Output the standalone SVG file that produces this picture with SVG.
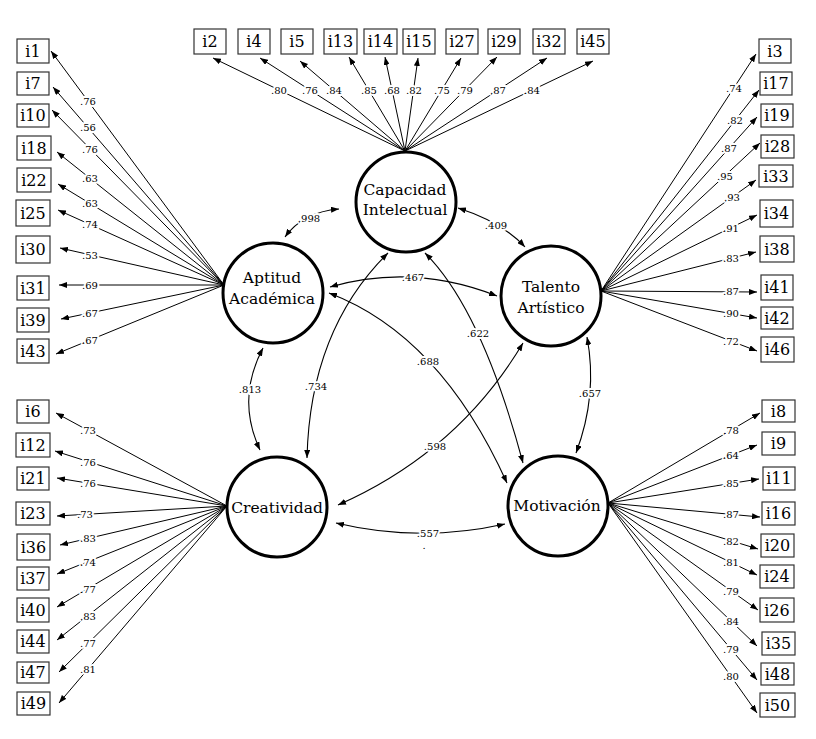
<svg xmlns="http://www.w3.org/2000/svg" width="816" height="739" viewBox="0 0 816 739">
<defs>
<marker id="ah" viewBox="0 0 8 6" refX="8" refY="3" markerWidth="8" markerHeight="6" markerUnits="userSpaceOnUse" orient="auto-start-reverse"><path d="M0,0 L8,3 L0,6 Z" fill="#000"/></marker>
<style>
.ind{fill:none;stroke:#000;stroke-width:1;marker-end:url(#ah)}
.cov{fill:none;stroke:#000;stroke-width:1.1;marker-start:url(#ah);marker-end:url(#ah)}
.lb{font-family:"DejaVu Serif","Liberation Serif",serif;font-size:10px;text-anchor:middle;dominant-baseline:central;fill:#000;stroke:#fff;stroke-width:4;paint-order:stroke;stroke-linejoin:round}
.box rect{fill:#fff;stroke:#333;stroke-width:1.2}
.box text{font-family:"DejaVu Serif","Liberation Serif",serif;font-size:16px;text-anchor:middle;fill:#000}
.lat circle{fill:#fff;stroke:#000;stroke-width:3}
.lat text{font-family:"DejaVu Serif","Liberation Serif",serif;font-size:15.5px;text-anchor:middle;fill:#000}
</style>
</defs>
<rect width="816" height="739" fill="#fff"/>
<g id="connectors">
<path class="ind" d="M405,151 L213,58"/>
<path class="ind" d="M405,151 L260,58"/>
<path class="ind" d="M405,151 L300,61"/>
<path class="ind" d="M405,151 L349,57"/>
<path class="ind" d="M405,151 L385,57"/>
<path class="ind" d="M405,151 L418,58"/>
<path class="ind" d="M405,151 L461,58"/>
<path class="ind" d="M405,151 L497,57"/>
<path class="ind" d="M405,151 L547,58"/>
<path class="ind" d="M405,151 L593,61"/>
<path class="ind" d="M224,285 L51,51"/>
<path class="ind" d="M224,285 L53,87"/>
<path class="ind" d="M224,285 L52,110"/>
<path class="ind" d="M224,285 L57,152"/>
<path class="ind" d="M224,285 L58,184"/>
<path class="ind" d="M224,285 L58,210"/>
<path class="ind" d="M224,285 L60,248"/>
<path class="ind" d="M224,285 L59,285"/>
<path class="ind" d="M224,285 L61,319"/>
<path class="ind" d="M224,285 L56,354"/>
<path class="ind" d="M601,291 L756,54"/>
<path class="ind" d="M601,291 L759,90"/>
<path class="ind" d="M601,291 L757,117"/>
<path class="ind" d="M601,291 L760,143"/>
<path class="ind" d="M601,291 L756,180"/>
<path class="ind" d="M601,291 L757,215"/>
<path class="ind" d="M601,291 L756,252"/>
<path class="ind" d="M601,291 L757,292"/>
<path class="ind" d="M601,291 L757,318"/>
<path class="ind" d="M601,291 L757,351"/>
<path class="ind" d="M227,506 L56,413"/>
<path class="ind" d="M227,506 L55,451"/>
<path class="ind" d="M227,506 L57,478"/>
<path class="ind" d="M227,506 L57,516"/>
<path class="ind" d="M227,506 L60,545"/>
<path class="ind" d="M227,506 L57,574"/>
<path class="ind" d="M227,506 L57,607"/>
<path class="ind" d="M227,506 L57,640"/>
<path class="ind" d="M227,506 L59,672"/>
<path class="ind" d="M227,506 L59,703"/>
<path class="ind" d="M608,503 L760,413"/>
<path class="ind" d="M608,503 L757,445"/>
<path class="ind" d="M608,503 L759,479"/>
<path class="ind" d="M608,503 L760,517"/>
<path class="ind" d="M608,503 L758,549"/>
<path class="ind" d="M608,503 L757,575"/>
<path class="ind" d="M608,503 L758,610"/>
<path class="ind" d="M608,503 L757,646"/>
<path class="ind" d="M608,503 L757,680"/>
<path class="ind" d="M608,503 L757,713"/>
<path class="cov" d="M285,237 Q303,212 339,209"/>
<path class="cov" d="M458,208 Q502,222 525,247"/>
<path class="cov" d="M330,287 Q413,263 497,296"/>
<path class="cov" d="M329,293 Q440,335 507,483"/>
<path class="cov" d="M425,253 C455,283 490,340 523,463"/>
<path class="cov" d="M307,458 Q310,330 388,253"/>
<path class="cov" d="M263,348 Q236,399 260,450"/>
<path class="cov" d="M587,337 Q598,395 576,453"/>
<path class="cov" d="M338,505 Q458,452 523,343"/>
<path class="cov" d="M336,523 Q420,543 505,524"/>
<g id="labels">
<text class="lb" x="279" y="90">.80</text>
<text class="lb" x="310" y="90">.76</text>
<text class="lb" x="334" y="90">.84</text>
<text class="lb" x="369" y="90">.85</text>
<text class="lb" x="392" y="90">.68</text>
<text class="lb" x="414" y="90">.82</text>
<text class="lb" x="442" y="90">.75</text>
<text class="lb" x="465" y="90">.79</text>
<text class="lb" x="498" y="90">.87</text>
<text class="lb" x="532" y="90">.84</text>
<text class="lb" x="88" y="101">.76</text>
<text class="lb" x="88" y="127.5">.56</text>
<text class="lb" x="90" y="149">.76</text>
<text class="lb" x="90" y="178">.63</text>
<text class="lb" x="90" y="203.5">.63</text>
<text class="lb" x="90" y="224.5">.74</text>
<text class="lb" x="90" y="255">.53</text>
<text class="lb" x="90" y="285">.69</text>
<text class="lb" x="90" y="313">.67</text>
<text class="lb" x="90" y="340">.67</text>
<text class="lb" x="734" y="88">.74</text>
<text class="lb" x="735" y="120">.82</text>
<text class="lb" x="729" y="148">.87</text>
<text class="lb" x="725" y="176">.95</text>
<text class="lb" x="732" y="197">.93</text>
<text class="lb" x="731" y="228">.91</text>
<text class="lb" x="731" y="258">.83</text>
<text class="lb" x="731" y="291.5">.87</text>
<text class="lb" x="731" y="313.5">.90</text>
<text class="lb" x="731" y="341">.72</text>
<text class="lb" x="88" y="430">.73</text>
<text class="lb" x="88" y="462">.76</text>
<text class="lb" x="88" y="483">.76</text>
<text class="lb" x="85" y="514">.73</text>
<text class="lb" x="88" y="538.5">.83</text>
<text class="lb" x="88" y="562">.74</text>
<text class="lb" x="88" y="589">.77</text>
<text class="lb" x="88" y="616">.83</text>
<text class="lb" x="88" y="643">.77</text>
<text class="lb" x="88" y="669">.81</text>
<text class="lb" x="731" y="430">.78</text>
<text class="lb" x="731" y="455">.64</text>
<text class="lb" x="731" y="483">.85</text>
<text class="lb" x="731" y="514">.87</text>
<text class="lb" x="731" y="541">.82</text>
<text class="lb" x="731" y="562">.81</text>
<text class="lb" x="731" y="591">.79</text>
<text class="lb" x="731" y="621">.84</text>
<text class="lb" x="731" y="649">.79</text>
<text class="lb" x="731" y="676">.80</text>
<text class="lb" x="309" y="218">.998</text>
<text class="lb" x="496" y="225">.409</text>
<text class="lb" x="413" y="277">.467</text>
<text class="lb" x="428" y="361">.688</text>
<text class="lb" x="478" y="333">.622</text>
<text class="lb" x="316" y="386">.734</text>
<text class="lb" x="250" y="389">.813</text>
<text class="lb" x="590" y="393">.657</text>
<text class="lb" x="435" y="446">.598</text>
<text class="lb" x="428" y="533.5">.557</text>
<text class="lb" x="424" y="545">.</text>
</g>
</g>
<g id="capacidad" class="lat"><circle cx="406" cy="202" r="50"/><text x="405" y="195">Capacidad</text><text x="405" y="215">Intelectual</text></g>
<g id="aptitud" class="lat"><circle cx="273" cy="293" r="50"/><text x="272" y="283">Aptitud</text><text x="272" y="304">Académica</text></g>
<g id="talento" class="lat"><circle cx="551" cy="296" r="50"/><text x="551" y="292">Talento</text><text x="551" y="313">Artístico</text></g>
<g id="creatividad" class="lat"><circle cx="277" cy="507" r="50"/><text x="277" y="513">Creatividad</text></g>
<g id="motivacion" class="lat"><circle cx="558" cy="506" r="50"/><text x="557" y="511">Motivación</text></g>
<g id="n-i2" class="box"><rect x="194" y="29" width="32" height="25"/><text x="210" y="47">i2</text></g>
<g id="n-i4" class="box"><rect x="238" y="29" width="32" height="25"/><text x="254" y="47">i4</text></g>
<g id="n-i5" class="box"><rect x="281" y="29" width="32" height="25"/><text x="297" y="47">i5</text></g>
<g id="n-i13" class="box"><rect x="324" y="29" width="33" height="25"/><text x="340.5" y="47">i13</text></g>
<g id="n-i14" class="box"><rect x="364" y="29" width="33" height="25"/><text x="380.5" y="47">i14</text></g>
<g id="n-i15" class="box"><rect x="403" y="29" width="32" height="25"/><text x="419" y="47">i15</text></g>
<g id="n-i27" class="box"><rect x="446" y="29" width="32" height="25"/><text x="462" y="47">i27</text></g>
<g id="n-i29" class="box"><rect x="488" y="29" width="32" height="25"/><text x="504" y="47">i29</text></g>
<g id="n-i32" class="box"><rect x="533" y="29" width="32" height="25"/><text x="549" y="47">i32</text></g>
<g id="n-i45" class="box"><rect x="577" y="29" width="32" height="25"/><text x="593" y="47">i45</text></g>
<g id="n-i1" class="box"><rect x="17" y="39" width="32" height="24"/><text x="33" y="56.5">i1</text></g>
<g id="n-i7" class="box"><rect x="17" y="72" width="32" height="23"/><text x="33" y="89">i7</text></g>
<g id="n-i10" class="box"><rect x="17" y="104" width="32" height="23"/><text x="33" y="121">i10</text></g>
<g id="n-i18" class="box"><rect x="17" y="136" width="34" height="24"/><text x="34" y="153.5">i18</text></g>
<g id="n-i22" class="box"><rect x="17" y="168" width="34" height="24"/><text x="34" y="185.5">i22</text></g>
<g id="n-i25" class="box"><rect x="16" y="200" width="34" height="26"/><text x="33" y="218.5">i25</text></g>
<g id="n-i30" class="box"><rect x="16" y="236" width="34" height="27"/><text x="33" y="255">i30</text></g>
<g id="n-i31" class="box"><rect x="17" y="276" width="32" height="24"/><text x="33" y="293.5">i31</text></g>
<g id="n-i39" class="box"><rect x="17" y="308" width="32" height="24"/><text x="33" y="325.5">i39</text></g>
<g id="n-i43" class="box"><rect x="17" y="339" width="32" height="24"/><text x="33" y="356.5">i43</text></g>
<g id="n-i3" class="box"><rect x="759" y="39" width="32" height="24"/><text x="775" y="56.5">i3</text></g>
<g id="n-i17" class="box"><rect x="760" y="72" width="32" height="23"/><text x="776" y="89">i17</text></g>
<g id="n-i19" class="box"><rect x="761" y="104" width="32" height="23"/><text x="777" y="121">i19</text></g>
<g id="n-i28" class="box"><rect x="761" y="135" width="33" height="23"/><text x="777.5" y="152">i28</text></g>
<g id="n-i33" class="box"><rect x="759" y="165" width="34" height="22"/><text x="776" y="181.5">i33</text></g>
<g id="n-i34" class="box"><rect x="760" y="200" width="33" height="27"/><text x="776.5" y="219">i34</text></g>
<g id="n-i38" class="box"><rect x="760" y="236" width="34" height="26"/><text x="777" y="254.5">i38</text></g>
<g id="n-i41" class="box"><rect x="761" y="275" width="32" height="25"/><text x="777" y="293">i41</text></g>
<g id="n-i42" class="box"><rect x="761" y="307" width="32" height="22"/><text x="777" y="323.5">i42</text></g>
<g id="n-i46" class="box"><rect x="761" y="337" width="33" height="25"/><text x="777.5" y="355">i46</text></g>
<g id="n-i6" class="box"><rect x="17" y="400" width="32" height="23"/><text x="33" y="417">i6</text></g>
<g id="n-i12" class="box"><rect x="16" y="433" width="34" height="24"/><text x="33" y="450.5">i12</text></g>
<g id="n-i21" class="box"><rect x="17" y="467" width="32" height="23"/><text x="33" y="484">i21</text></g>
<g id="n-i23" class="box"><rect x="16" y="502" width="34" height="23"/><text x="33" y="519">i23</text></g>
<g id="n-i36" class="box"><rect x="17" y="534" width="33" height="26"/><text x="33.5" y="552.5">i36</text></g>
<g id="n-i37" class="box"><rect x="17" y="567" width="32" height="23"/><text x="33" y="584">i37</text></g>
<g id="n-i40" class="box"><rect x="17" y="598" width="32" height="24"/><text x="33" y="615.5">i40</text></g>
<g id="n-i44" class="box"><rect x="17" y="630" width="32" height="23"/><text x="33" y="647">i44</text></g>
<g id="n-i47" class="box"><rect x="17" y="662" width="32" height="21"/><text x="33" y="678">i47</text></g>
<g id="n-i49" class="box"><rect x="17" y="692" width="33" height="23"/><text x="33.5" y="709">i49</text></g>
<g id="n-i8" class="box"><rect x="762" y="400" width="33" height="22"/><text x="778.5" y="416.5">i8</text></g>
<g id="n-i9" class="box"><rect x="762" y="432" width="33" height="23"/><text x="778.5" y="449">i9</text></g>
<g id="n-i11" class="box"><rect x="763" y="467" width="32" height="23"/><text x="779" y="484">i11</text></g>
<g id="n-i16" class="box"><rect x="762" y="502" width="33" height="23"/><text x="778.5" y="519">i16</text></g>
<g id="n-i20" class="box"><rect x="761" y="534" width="33" height="23"/><text x="777.5" y="551">i20</text></g>
<g id="n-i24" class="box"><rect x="760" y="565" width="34" height="23"/><text x="777" y="582">i24</text></g>
<g id="n-i26" class="box"><rect x="760" y="598" width="34" height="24"/><text x="777" y="615.5">i26</text></g>
<g id="n-i35" class="box"><rect x="762" y="632" width="33" height="23"/><text x="778.5" y="649">i35</text></g>
<g id="n-i48" class="box"><rect x="761" y="663" width="33" height="22"/><text x="777.5" y="679.5">i48</text></g>
<g id="n-i50" class="box"><rect x="760" y="693" width="35" height="24"/><text x="777.5" y="710.5">i50</text></g>
</svg>
